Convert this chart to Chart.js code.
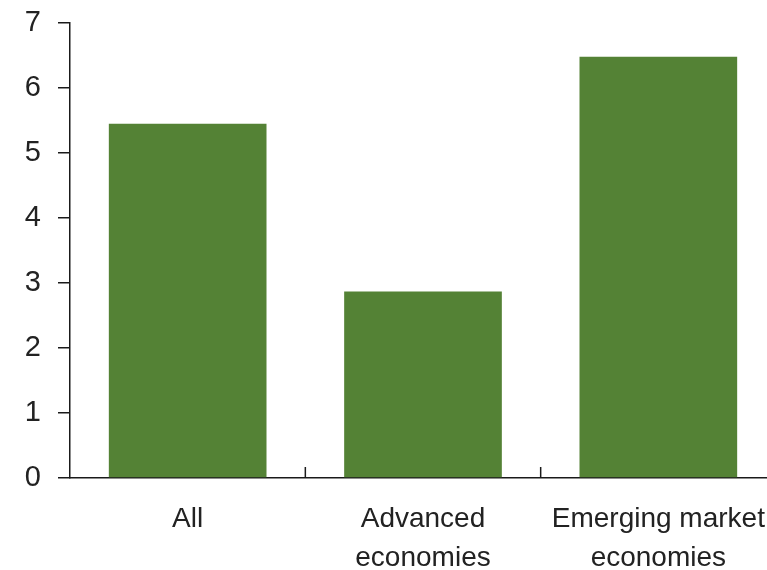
<!DOCTYPE html>
<html>
<head>
<meta charset="utf-8">
<script src="https://cdn.jsdelivr.net/npm/chart.js@4.4.1/dist/chart.umd.min.js"></script>
<style>
  html, body { margin: 0; padding: 0; background: #fff; overflow: hidden; }
  #wrap { width: 776px; height: 570px; }
</style>
</head>
<body>
<div id="wrap"><canvas id="barChart" width="776" height="570"></canvas></div>
<script>
// datos
const categories = ['All', ['Advanced', 'economies'], ['Emerging market', 'economies']];
const values = [5.45, 2.87, 6.48];
const yTicks = [0, 1, 2, 3, 4, 5, 6, 7];

const axisColor = '#1a1a1a';
const textColor = '#222';

// marcas pequeñas hacia arriba entre categorias
const innerTicks = {
    id: 'innerTicks',
    afterDraw(chart) {
        const x = chart.scales.x;
        const ctx = chart.ctx;
        const bottom = chart.chartArea.bottom;
        const step = x.getPixelForValue(1) - x.getPixelForValue(0);
        ctx.save();
        ctx.strokeStyle = axisColor;
        ctx.lineWidth = 1.5;
        for (let i = 0; i < categories.length; i++) {
            const px = x.getPixelForValue(i) + step / 2;
            ctx.beginPath();
            ctx.moveTo(px, bottom);
            ctx.lineTo(px, bottom - 11);
            ctx.stroke();
        }
        ctx.restore();
    }
};

new Chart(document.getElementById('barChart').getContext('2d'), {
    type: 'bar',
    data: {
        labels: categories,
        datasets: [{
            data: values,
            backgroundColor: '#548235',
            borderWidth: 0,
            barPercentage: 0.67,
            categoryPercentage: 1
        }]
    },
    options: {
        responsive: false,
        animation: false,
        layout: { padding: { top: 23, right: 0, left: 0, bottom: 0 } },
        plugins: { legend: { display: false }, tooltip: { enabled: false } },
        scales: {
            x: {
                offset: true,
                grid: { display: false },
                border: { display: true, color: axisColor, width: 1.5 },
                ticks: {
                    color: textColor,
                    padding: 14,
                    maxRotation: 0,
                    autoSkip: false,
                    font: { family: 'Liberation Sans, Arial, sans-serif', size: 28, lineHeight: 1.38 }
                },
                afterFit(scale) {
                    scale.height = 92;
                    scale.paddingLeft = 0;
                    scale.paddingRight = 0;
                }
            },
            y: {
                min: 0,
                max: 7,
                afterBuildTicks(scale) { scale.ticks = yTicks.map(v => ({ value: v })); },
                grid: {
                    drawOnChartArea: false,
                    drawTicks: true,
                    tickLength: 12,
                    color: axisColor,
                    lineWidth: 1.5
                },
                border: { display: true, color: axisColor, width: 1.5 },
                ticks: {
                    color: textColor,
                    padding: 17,
                    font: { family: 'Liberation Sans, Arial, sans-serif', size: 29 }
                },
                afterFit(scale) {
                    scale.width = 70;
                    scale.paddingTop = 0;
                    scale.paddingBottom = 0;
                }
            }
        }
    },
    plugins: [innerTicks]
});
</script>
</body>
</html>
